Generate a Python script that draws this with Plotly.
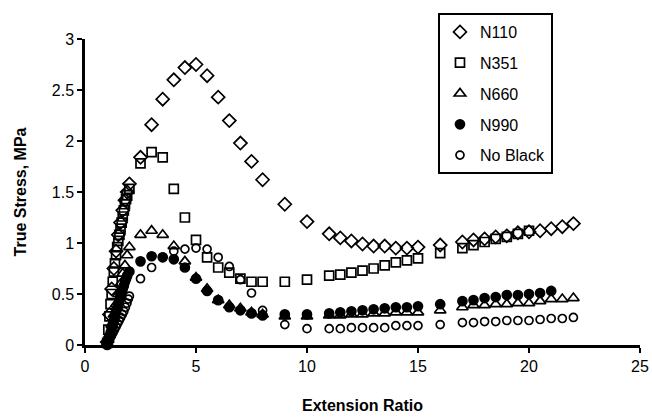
import plotly.graph_objects as go

# ---- data ----
n110_x = [1.0, 1.1, 1.2, 1.3, 1.4, 1.5, 1.6, 1.7, 1.8, 1.9, 2.0,
          2.5, 3, 3.5, 4, 4.5, 5, 5.5, 6, 6.5, 7, 7.5, 8, 9, 10, 11, 11.5, 12, 12.5, 13, 13.5,
          14, 14.5, 15, 16, 17, 17.5, 18, 18.5, 19, 19.5, 20, 20.5, 21, 21.5, 22]
n110_y = [0.03, 0.3, 0.55, 0.75, 0.92, 1.08, 1.2, 1.32, 1.42, 1.5, 1.58,
          1.84, 2.16, 2.41, 2.6, 2.72, 2.75, 2.64, 2.43, 2.2, 1.98, 1.8, 1.62, 1.38, 1.21, 1.09, 1.05,
          1.02, 0.99, 0.97, 0.97, 0.95, 0.95, 0.96, 0.98, 1.01, 1.03, 1.04, 1.06, 1.07, 1.1, 1.11,
          1.12, 1.14, 1.16, 1.19]

n351_x = [1.0, 1.05, 1.1, 1.15, 1.2, 1.25, 1.3, 1.35, 1.4, 1.45, 1.5, 1.55, 1.6, 1.65, 1.7, 1.75,
          1.8, 1.85, 1.9, 2.0,
          2.5, 3, 3.5, 4, 4.5, 5, 5.5, 6, 6.5, 7, 7.5, 8, 9, 10, 11, 11.5, 12, 12.5, 13, 13.5,
          14, 14.5, 15, 16, 17, 17.5, 18, 18.5, 19, 19.5, 20]
n351_y = [0.02, 0.15, 0.28, 0.4, 0.5, 0.62, 0.72, 0.8, 0.88, 0.96, 1.02, 1.08, 1.14, 1.2, 1.26, 1.32,
          1.38, 1.43, 1.47, 1.53,
          1.78, 1.89, 1.84, 1.53, 1.25, 1.03, 0.86, 0.76, 0.71, 0.65, 0.62, 0.62, 0.62, 0.64, 0.68,
          0.69, 0.71, 0.73, 0.75, 0.78, 0.81, 0.83, 0.85, 0.9, 0.95, 0.98, 1.01, 1.04, 1.06, 1.09, 1.12]

n660_x = [1.0, 1.1, 1.2, 1.3, 1.4, 1.5, 1.6, 1.7, 1.8, 1.9, 2.0,
          2.5, 3, 3.5, 4, 4.5, 5, 5.5, 6, 6.5, 7, 7.5, 8, 9, 10, 11, 11.5, 12, 12.5, 13, 13.5,
          14, 14.5, 15, 16, 17, 17.5, 18, 18.5, 19, 19.5, 20, 20.5, 21, 21.5, 22]
n660_y = [0.02, 0.1, 0.2, 0.3, 0.4, 0.5, 0.6, 0.7, 0.78, 0.88, 0.96,
          1.08, 1.12, 1.08, 0.97, 0.82, 0.66, 0.55, 0.44, 0.39, 0.36, 0.32, 0.3, 0.28, 0.28, 0.29,
          0.29, 0.3, 0.3, 0.31, 0.31, 0.32, 0.32, 0.32, 0.34, 0.37, 0.39, 0.39, 0.4, 0.4, 0.41, 0.41,
          0.43, 0.45, 0.45, 0.46]

n990_x = [1.0, 1.05, 1.1, 1.15, 1.2, 1.25, 1.3, 1.35, 1.4, 1.45, 1.5, 1.55, 1.6, 1.65, 1.7, 1.75,
          1.8, 1.85, 1.9, 2.0,
          2.5, 3, 3.5, 4, 4.5, 5, 5.5, 6, 6.5, 7, 7.5, 8, 9, 10, 11, 11.5, 12, 12.5, 13, 13.5,
          14, 14.5, 15, 16, 17, 17.5, 18, 18.5, 19, 19.5, 20, 20.5, 21]
n990_y = [0.0, 0.04, 0.08, 0.12, 0.16, 0.2, 0.24, 0.28, 0.32, 0.36, 0.4, 0.44, 0.48, 0.52, 0.55,
          0.58, 0.62, 0.65, 0.68, 0.72,
          0.82, 0.87, 0.86, 0.84, 0.76, 0.65, 0.53, 0.44, 0.37, 0.34, 0.31, 0.29, 0.3, 0.3, 0.31,
          0.32, 0.33, 0.34, 0.35, 0.36, 0.37, 0.37, 0.38, 0.4, 0.43, 0.44, 0.46, 0.47, 0.49, 0.49,
          0.5, 0.51, 0.53]

nob_x = [1.05, 1.12, 1.19, 1.26, 1.33, 1.4, 1.47, 1.54, 1.61, 1.68, 1.75, 1.82, 1.89, 1.95, 2.0,
         2.5, 3, 3.5, 4, 4.5, 5, 5.5, 6, 6.5, 7, 7.5, 8, 9, 10, 11, 11.5, 12, 12.5, 13, 13.5,
         14, 14.5, 15, 16, 17, 17.5, 18, 18.5, 19, 19.5, 20, 20.5, 21, 21.5, 22]
nob_y = [0.03, 0.06, 0.09, 0.12, 0.15, 0.18, 0.21, 0.24, 0.27, 0.3, 0.33, 0.37, 0.41, 0.45, 0.48,
         0.65, 0.76, 0.86, 0.92, 0.94, 0.95, 0.94, 0.86, 0.77, 0.64, 0.51, 0.34, 0.2, 0.16, 0.16,
         0.16, 0.17, 0.17, 0.17, 0.17, 0.19, 0.19, 0.19, 0.2, 0.22, 0.22, 0.23, 0.23, 0.24, 0.24,
         0.24, 0.25, 0.26, 0.26, 0.27]

series = [
    ("N110", n110_x, n110_y, "diamond-open", 10),
    ("N351", n351_x, n351_y, "square-open", 9),
    ("N660", n660_x, n660_y, "triangle-up-open", 10),
    ("N990", n990_x, n990_y, "circle", 9),
    ("No Black", nob_x, nob_y, "circle-open", 8),
]

FONT = "Liberation Sans, Arial, sans-serif"

fig = go.Figure()
for i, (name, xs, ys, sym, sz) in enumerate(series):
    fig.add_trace(go.Scatter(
        x=xs, y=ys, mode="markers", name=name, legendgroup=str(i),
        marker=dict(symbol=sym, size=sz, color="black",
                    line=dict(color="black", width=1.7)),
        cliponaxis=False,
    ))

fig.update_layout(
    width=652, height=419,
    margin=dict(l=85, r=12, t=39, b=74, autoexpand=False),
    paper_bgcolor="white", plot_bgcolor="white",
    font=dict(family=FONT, size=16, color="black"),
    showlegend=True,
    legend=dict(
        x=0.636, y=1.085, xanchor="left", yanchor="top",
        bordercolor="black", borderwidth=2, bgcolor="white",
        font=dict(family=FONT, size=16, color="black"),
        tracegroupgap=7, itemwidth=30,
    ),
    xaxis=dict(
        range=[0, 25], tickvals=[0, 5, 10, 15, 20, 25], automargin=False,
        showgrid=False, zeroline=False, showline=True, linecolor="black", linewidth=2.5,
        ticks="outside", ticklen=5, tickwidth=2, tickcolor="black",
        tickfont=dict(family=FONT, size=16),
        title=dict(text="<b>Extension Ratio</b>", font=dict(family=FONT, size=16), standoff=26),
    ),
    yaxis=dict(
        range=[0, 3], tickvals=[0, 0.5, 1, 1.5, 2, 2.5, 3], automargin=False,
        showgrid=False, zeroline=False, showline=True, linecolor="black", linewidth=2.5,
        ticks="outside", ticklen=5, tickwidth=2, tickcolor="black",
        tickfont=dict(family=FONT, size=16),
        title=dict(text="<b>True Stress, MPa</b>", font=dict(family=FONT, size=16), standoff=22),
    ),
)

fig.write_html("out.html")
